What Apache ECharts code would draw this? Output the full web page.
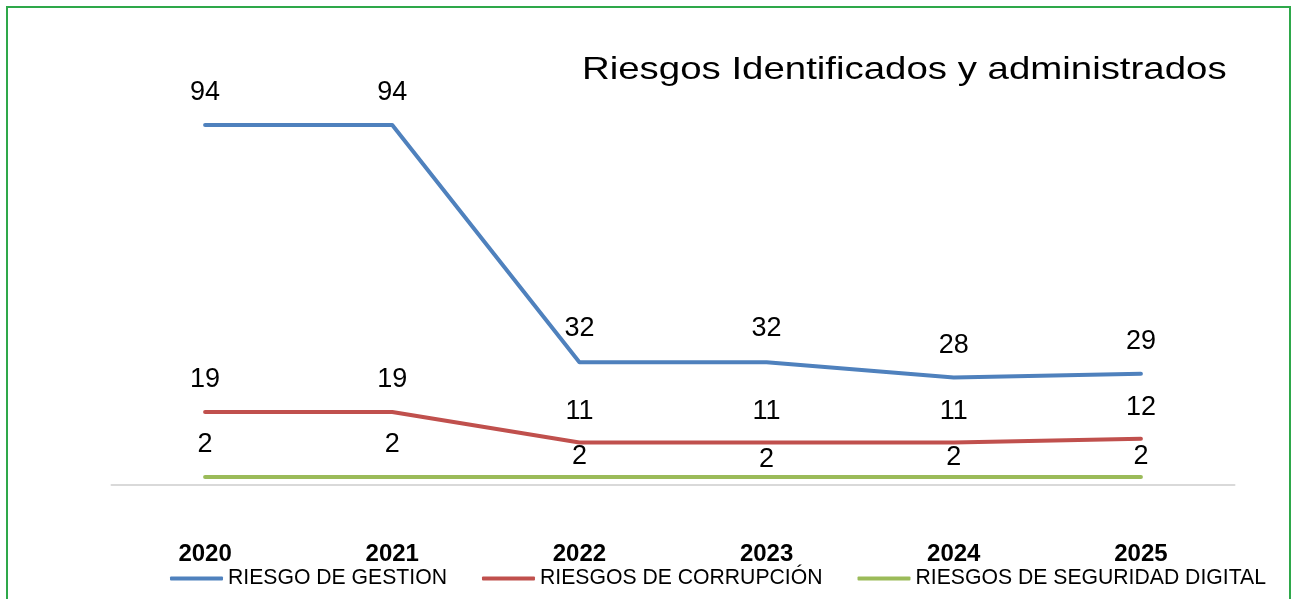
<!DOCTYPE html>
<html>
<head>
<meta charset="utf-8">
<script src="https://cdn.jsdelivr.net/npm/echarts@6/dist/echarts.min.js"></script>
<style>
  html, body { margin: 0; padding: 0; background: #fff; }
  #chart { width: 1291px; height: 599px; }
</style>
</head>
<body>
<div id="chart"></div>
<script>
// Annual counts of identified and managed risks
const years = ['2020', '2021', '2022', '2023', '2024', '2025'];
const riesgoGestion = [94, 94, 32, 32, 28, 29];
const riesgosCorrupcion = [19, 19, 11, 11, 11, 12];
const riesgosSeguridadDigital = [2, 2, 2, 2, 2, 2];

const chartTitle = 'Riesgos Identificados y administrados';
const seriesNames = ['RIESGO DE GESTION', 'RIESGOS DE CORRUPCIÓN', 'RIESGOS DE SEGURIDAD DIGITAL'];
const seriesColors = ['#4f81bd', '#c0504d', '#9bbb59'];

// Label gap above each point (digital-security labels sit closer from 2022 on)
const labelGaps = [
  [19, 19, 20, 20, 18, 19],
  [19, 19, 18, 18, 18, 18],
  [19, 19, 7, 4, 6, 7]
];

const FONT = '"Liberation Sans", Arial, sans-serif';

function withLabels(values, gaps) {
  return values.map((v, i) => ({ value: v, label: { distance: gaps[i] } }));
}

function lineSeries(idx, values) {
  return {
    name: seriesNames[idx],
    type: 'line',
    data: withLabels(values, labelGaps[idx]),
    symbol: 'circle',
    symbolSize: 0,
    showSymbol: true,
    color: seriesColors[idx],
    itemStyle: { color: seriesColors[idx] },
    lineStyle: { width: 4, color: seriesColors[idx], cap: 'round', join: 'round' },
    label: {
      show: true,
      position: 'top',
      fontFamily: FONT,
      fontSize: 27,
      color: '#000'
    },
    emphasis: { disabled: true },
    animation: false
  };
}

const chart = echarts.init(document.getElementById('chart'), null, { renderer: 'canvas' });
chart.setOption({
  backgroundColor: '#fff',
  animation: false,
  legend: {
    left: 165,
    top: 563,
    icon: 'roundRect',
    itemWidth: 53,
    itemHeight: 4,
    itemGap: 35,
    textStyle: { fontFamily: FONT, fontSize: 21.2, color: '#000' },
    data: seriesNames
  },
  grid: { left: 111.5, right: 56.5, top: 102, bottom: 114.35, containLabel: false },
  xAxis: {
    type: 'category',
    data: years,
    boundaryGap: true,
    axisLine: { lineStyle: { color: '#d9d9d9', width: 2 } },
    axisTick: { show: false },
    axisLabel: {
      margin: 58,
      fontFamily: FONT,
      fontSize: 24,
      fontWeight: 'bold',
      color: '#000'
    }
  },
  yAxis: {
    type: 'value',
    min: 0,
    max: 100,
    show: false,
    splitLine: { show: false }
  },
  series: [
    lineSeries(0, riesgoGestion),
    lineSeries(1, riesgosCorrupcion),
    lineSeries(2, riesgosSeguridadDigital)
  ],
  graphic: [
    {
      type: 'text',
      x: 582,
      y: 70,
      scaleX: 1.2,
      style: {
        text: chartTitle,
        fontFamily: FONT,
        fontSize: 32,
        fill: '#000',
        textAlign: 'left',
        textVerticalAlign: 'middle'
      },
      silent: true
    },
    {
      type: 'rect',
      shape: { x: 7, y: 7, width: 1283, height: 620 },
      style: { fill: 'none', stroke: '#2ea84a', lineWidth: 2 },
      silent: true
    }
  ]
});
</script>
</body>
</html>
